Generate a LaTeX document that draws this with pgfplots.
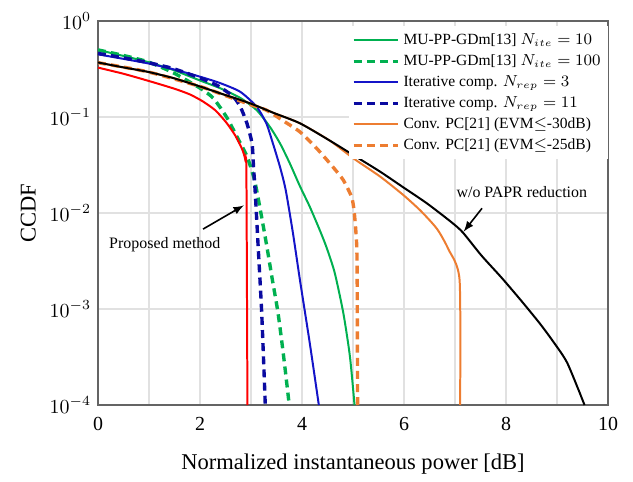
\documentclass[border=0pt]{standalone}
\usepackage{fontspec}
\setmainfont{Liberation Serif}
\usepackage{pgfplots}
\pgfplotsset{compat=1.18}
\definecolor{cgreen}{RGB}{0,176,80}
\definecolor{cblue}{RGB}{20,20,200}
\definecolor{cnavy}{RGB}{10,10,160}
\definecolor{corange}{RGB}{237,125,49}
\definecolor{cred}{RGB}{255,0,0}
\definecolor{cgrid}{RGB}{225,225,225}
\definecolor{cframe}{RGB}{100,100,100}
\begin{document}
\begin{tikzpicture}
\begin{axis}[
  scale only axis, width=255bp, height=192bp,
  xmin=0, xmax=10, ymin=1e-4, ymax=1,
  ymode=log,
  xtick={0,2,4,6,8,10},
  minor xtick={1,3,5,7,9},
  ytick={1e-4,1e-3,1e-2,1e-1,1},
  yminorticks=false,
  xmajorgrids=true, xminorgrids=true, ymajorgrids=true, yminorgrids=false,
  major grid style={cgrid, line width=0.6pt},
  minor grid style={cgrid, line width=0.6pt},
  major tick length=0pt, minor tick length=0pt,
  axis line style={cframe, line width=0.8pt},
  tick label style={font=\fontsize{10}{12}\selectfont},
  x tick label style={/pgf/number format/assume math mode=true, yshift=-2.5pt},
  xlabel={Normalized instantaneous power [dB]},
  ylabel={CCDF},
  label style={font=\fontsize{11.3}{13}\selectfont},
  xlabel style={yshift=-5pt},
  legend cell align=left,
  legend style={at={(1,1)}, anchor=north east, yshift=-2.5bp, draw=none, fill=white,
    font=\fontsize{7.8}{9.3}\selectfont, row sep=-0.4pt, inner sep=1.5pt},
  legend image code/.code={\draw[#1] (0cm,0cm) -- (0.78cm,0cm);},
]
% MU-PP-GDm N_ite=10
\addplot[cgreen, line width=1pt, smooth, tension=0.4] coordinates {
(0,0.50) (0.48,0.435) (0.97,0.375) (1.47,0.31) (2.00,0.24) (2.39,0.20) (2.79,0.158) (3.11,0.118) (3.37,0.079) (3.57,0.053) (3.76,0.033) (3.96,0.019) (4.15,0.0117) (4.34,0.0068) (4.48,0.0044) (4.64,0.0024) (4.81,0.00091) (4.94,0.00032) (5.03,0.0001)};
\addlegendentry{MU-PP-GDm[13] $N_{ite}=10$}
% MU-PP-GDm N_ite=100
\addplot[cgreen, line width=1.7pt, dash pattern=on 4pt off 2.6pt, smooth, tension=0.4] coordinates {
(0,0.50) (0.48,0.44) (0.97,0.377) (1.47,0.29) (2.00,0.20) (2.26,0.157) (2.52,0.10) (2.72,0.063) (2.92,0.039) (3.05,0.024) (3.11,0.0174) (3.21,0.009) (3.31,0.0045) (3.42,0.002) (3.53,0.00091) (3.64,0.00032) (3.75,0.0001)};
\addlegendentry{MU-PP-GDm[13] $N_{ite}=100$}
% Iterative comp N_rep=3
\addplot[cblue, line width=1pt, smooth, tension=0.4] coordinates {
(0,0.45) (0.48,0.405) (0.97,0.363) (1.47,0.315) (2.00,0.263) (2.39,0.226) (2.79,0.183) (3.11,0.128) (3.30,0.086) (3.43,0.053) (3.57,0.030) (3.68,0.0174) (3.82,0.0063) (3.96,0.002) (4.15,0.00045) (4.33,0.0001)};
\addlegendentry{Iterative comp. $N_{rep}=3$}
% Iterative comp N_rep=11
\addplot[cnavy, line width=1.7pt, dash pattern=on 4pt off 2.6pt, smooth, tension=0.4] coordinates {
(0,0.46) (0.48,0.415) (0.97,0.37) (1.47,0.32) (2.00,0.255) (2.36,0.21) (2.65,0.163) (2.79,0.128) (2.92,0.086) (3.02,0.053) (3.05,0.030) (3.08,0.0174) (3.11,0.009) (3.14,0.0045) (3.21,0.00091) (3.28,0.0001)};
\addlegendentry{Iterative comp. $N_{rep}=11$}
% Conv PC EVM<=-30dB
\addplot[corange, line width=1pt, smooth, tension=0.4] coordinates {
(0,0.368) (0.48,0.33) (0.97,0.296) (1.47,0.255) (2.00,0.208) (2.46,0.172) (2.98,0.139) (3.45,0.11) (3.96,0.086) (4.54,0.057) (5.01,0.037) (5.53,0.024) (5.98,0.0155) (6.33,0.0105) (6.65,0.0068) (6.87,0.0042) (7.09,0.002) (7.10,0.0001)};
\addlegendentry{Conv. PC[21] (EVM$\leq$-30dB)}
% Conv PC EVM<=-25dB
\addplot[corange, line width=1.7pt, dash pattern=on 4pt off 2.6pt, smooth, tension=0.4] coordinates {
(0,0.368) (0.97,0.296) (2.00,0.208) (2.46,0.17) (2.98,0.135) (3.30,0.118) (3.65,0.09) (3.96,0.07) (4.29,0.047) (4.61,0.030) (4.81,0.022) (4.97,0.0148) (5.02,0.0107) (5.06,0.006) (5.08,0.003) (5.09,0.0001)};
\addlegendentry{Conv. PC[21] (EVM$\leq$-25dB)}
% Proposed
\addplot[cred, line width=1pt, forget plot, smooth, tension=0.4] coordinates {
(0,0.327) (0.5,0.282) (1.0,0.237) (1.5,0.197) (1.8,0.172) (2.05,0.146) (2.3,0.1175) (2.52,0.087) (2.7,0.063) (2.83,0.0457) (2.89,0.0355) (2.91,0.025) (2.93,0.0001)};
% w/o PAPR reduction
\addplot[black, line width=1pt, forget plot, smooth, tension=0.4] coordinates {
(0,0.37) (0.48,0.33) (0.97,0.296) (1.47,0.255) (2.00,0.208) (2.46,0.172) (2.98,0.139) (3.45,0.11) (3.96,0.086) (4.54,0.057) (5.01,0.040) (5.53,0.027) (5.98,0.0186) (6.45,0.0126) (6.92,0.0081) (7.15,0.0063) (7.52,0.0036) (7.92,0.0021) (8.31,0.0012) (8.66,0.00071) (8.91,0.00047) (9.20,0.000275) (9.54,0.0001)};
% annotations
\node[font=\fontsize{8}{9.5}\selectfont] at (axis cs:1.31,0.0047) {Proposed method};
\draw[-latex, line width=0.8pt] (axis cs:2.06,0.0068) -- (axis cs:2.86,0.012);
\node[font=\fontsize{8}{9.5}\selectfont] at (axis cs:8.31,0.0165) {w/o PAPR reduction};
\draw[-latex, line width=0.8pt] (axis cs:7.53,0.0112) -- (axis cs:7.17,0.0064);
\end{axis}
\path ([xshift=-49bp,yshift=-34bp]current axis.south west) rectangle ([xshift=12.5bp,yshift=10.5bp]current axis.north east);
\end{tikzpicture}
\end{document}
